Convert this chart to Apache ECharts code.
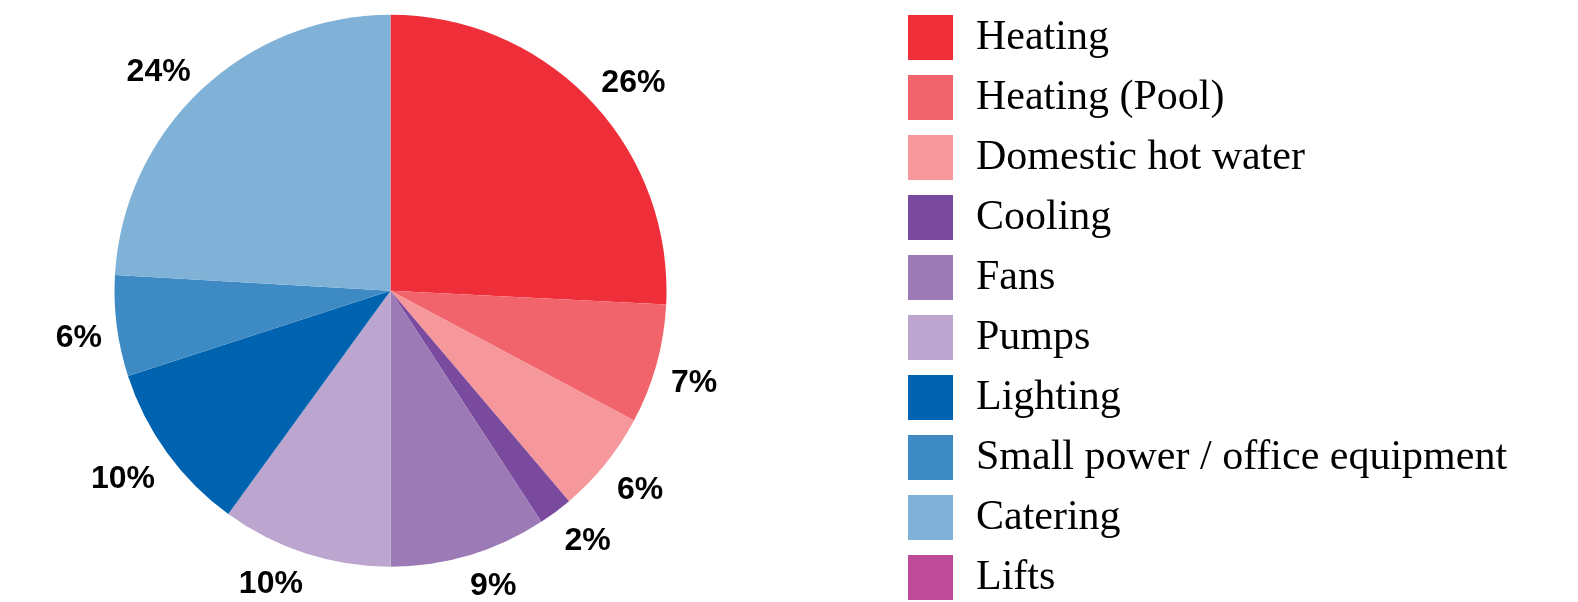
<!DOCTYPE html>
<html>
<head>
<meta charset="utf-8">
<script src="https://cdn.jsdelivr.net/npm/echarts@6/dist/echarts.min.js"></script>
<style>
html,body{margin:0;padding:0;background:#fff;}
#chart{width:1578px;height:602px;}
</style>
</head>
<body>
<div id="chart"></div>
<script>
const categories = ['Heating','Heating (Pool)','Domestic hot water','Cooling','Fans','Pumps','Lighting','Small power / office equipment','Catering','Lifts'];
const values = [25.8, 7.0, 6.0, 2.0, 9.2, 10.0, 10.0, 5.9, 24.1, 0];
const colors = ['#EE2E38','#F2646B','#F5979B','#7A4A9F','#9B7AB6','#BCA5CF','#0063AF','#3E8AC4','#80B1D7','#BE4A98'];

// layout constants
const CX = 390.5, CY = 290.7, PIE_R = 276, LABEL_R = 291, LABEL_DY = 5;

// mid angles derived from the data (clockwise from 12 o'clock)
const total = values.reduce((a, b) => a + b, 0);
const midAngles = [];
let acc = 0;
values.forEach(v => { midAngles.push((acc + v / 2) / total * 2 * Math.PI); acc += v; });

function sat(t) { return Math.max(-1, Math.min(1, t * 3)); }

const chart = echarts.init(document.getElementById('chart'), null, {renderer:'canvas'});
const data = categories.map((name, i) => {
  const item = { name: name, value: values[i], itemStyle: { color: colors[i] } };
  if (values[i] === 0) item.label = { show: false };
  return item;
});
chart.setOption({
  animation: false,
  backgroundColor: '#ffffff',
  legend: {
    orient: 'vertical',
    left: 908,
    top: 15,
    height: 600,
    padding: 0,
    itemWidth: 45,
    itemHeight: 45,
    itemGap: 15,
    icon: 'rect',
    data: categories,
    textStyle: {
      fontFamily: '"Liberation Serif", "Times New Roman", serif',
      fontSize: 42,
      color: '#000',
      padding: [2, 0, 0, 18],
      lineHeight: 43
    }
  },
  series: [{
    type: 'pie',
    center: [CX, CY],
    radius: PIE_R,
    startAngle: 90,
    clockwise: true,
    percentPrecision: 0,
    avoidLabelOverlap: false,
    itemStyle: { borderWidth: 0 },
    label: {
      show: true,
      position: 'outside',
      formatter: '{d}%',
      fontFamily: '"Liberation Sans", Arial, sans-serif',
      fontWeight: 'bold',
      fontSize: 32,
      color: '#000'
    },
    labelLine: { show: false, length: 16, length2: 0 },
    labelLayout: function (p) {
      const th = midAngles[p.dataIndex];
      const ux = Math.sin(th), uy = -Math.cos(th);
      const w = p.labelRect.width, h = 24;
      return {
        x: CX + ux * LABEL_R + sat(ux) * w / 2,
        y: CY + uy * LABEL_R + sat(uy) * h / 2 + LABEL_DY,
        align: 'center',
        verticalAlign: 'middle'
      };
    },
    emphasis: { disabled: true },
    data: data
  }]
});
</script>
</body>
</html>
